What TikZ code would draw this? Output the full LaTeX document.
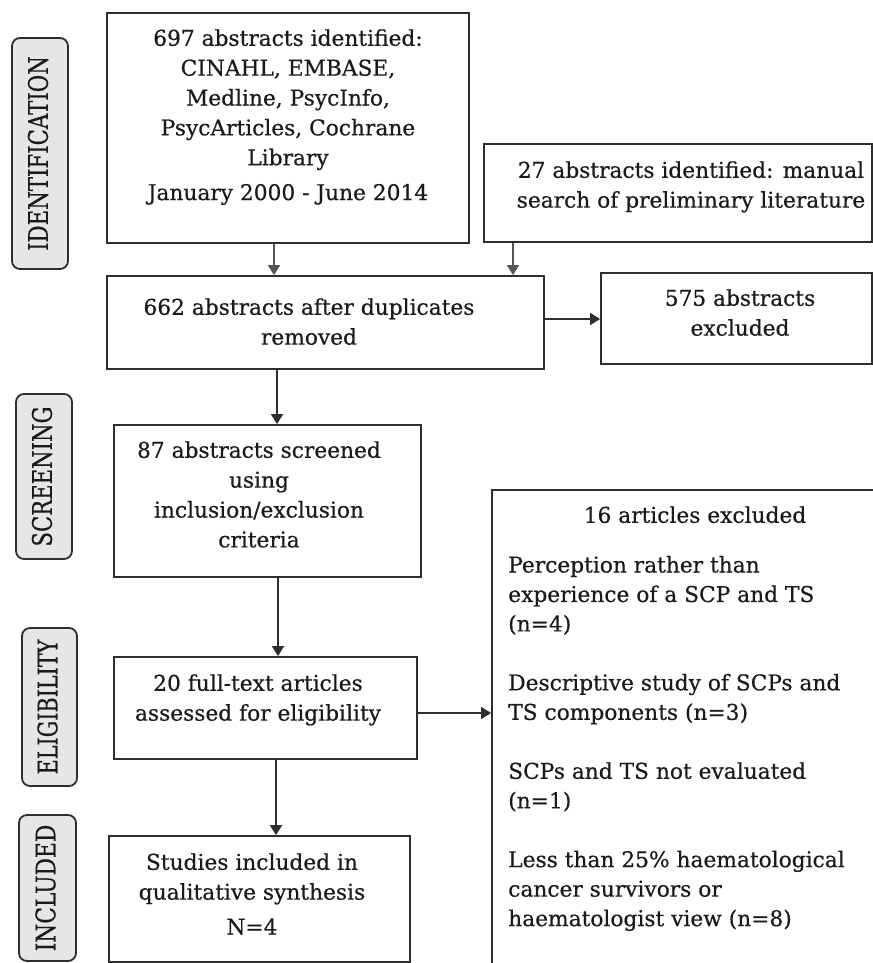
\documentclass[tikz,border=0pt]{standalone}
\usepackage{fontspec}
\setmainfont{DejaVu Serif}
\newfontfamily\heavyserif[FakeBold=0.5]{DejaVu Serif}
\usetikzlibrary{arrows.meta,fit,calc}
\definecolor{ink}{HTML}{1A1A1A}
\definecolor{edge}{HTML}{2E2E2E}
\definecolor{feed}{HTML}{555555}
\definecolor{pillfill}{HTML}{E6E6E6}

\begin{document}
\begin{tikzpicture}[x=0.75pt,y=-0.75pt,
  box/.style={draw=edge,line width=1.35pt,inner sep=0pt},
  pill/.style={draw=edge,line width=1.35pt,fill=pillfill,rounded corners=6pt,inner sep=0pt},
  txt/.style={inner sep=0pt,text=ink,font=\heavyserif\fontsize{16.3}{22.4}\selectfont,align=center},
  listtxt/.style={inner sep=0pt,text=ink,font=\heavyserif\fontsize{16.3}{22.1}\selectfont,align=left},
  phase/.style={rotate=90,inner sep=0pt,text=ink,font=\heavyserif},
  arr/.style={draw=edge,line width=1.35pt,-{Triangle[width=9pt,length=7.5pt]}},
]
\clip (0,0) rectangle (873,963);

% phase labels
\node[pill,fit={(12,38) (68,269)}] (p1) {};
\node[phase] (p1t) at ($(p1.center)+(-2,0)$) {\resizebox{146pt}{15pt}{IDENTIFICATION}};
\node[pill,fit={(16,394) (72,559)}] (p2) {};
\node[phase] (p2t) at ($(p2.center)+(-2,0)$) {\resizebox{105pt}{15pt}{SCREENING}};
\node[pill,fit={(22,628) (77,786)}] (p3) {};
\node[phase] (p3t) at ($(p3.center)+(-2,0)$) {\resizebox{101pt}{15pt}{ELIGIBILITY}};
\node[pill,fit={(19,815) (76,961)}] (p4) {};
\node[phase] (p4t) at ($(p4.center)+(-2,0)$) {\resizebox{95pt}{15pt}{INCLUDED}};

% flow boxes
\node[box,fit={(107,13) (469,243)}] (b1) {};
\node[box,fit={(484,144) (872,242)}] (b2) {};
\node[box,fit={(107,276) (544,369)}] (b3) {};
\node[box,fit={(601,273) (872,364)}] (b4) {};
\node[box,fit={(114,425) (421,577)}] (b5) {};
\node[box,fit={(114,657) (417,759)}] (b6) {};
\node[box,fit={(109,836) (410,962)}] (b7) {};
\node[box,fit={(492,490) (890,985)}] (b8) {};

% box texts
\node[txt,anchor=north] (t1) at (288,24.6) {\strut 697 abstracts identified:\\
  CINAHL, EMBASE,\\ Medline, PsycInfo,\\ PsycArticles, Cochrane\\ Library\\[3.75pt]
  January 2000 - June 2014};
\node[txt,anchor=north] (t2) at (691,156.6) {\strut 27 abstracts identified: manual\\
  search of preliminary literature};
\node[txt,anchor=north] (t3) at (309,293.6) {\strut 662 abstracts after duplicates\\ removed};
\node[txt,anchor=north] (t4) at (740,284.6) {\strut 575 abstracts\\ excluded};
\node[txt,anchor=north] (t5) at (259,436.6) {\strut 87 abstracts screened\\ using\\
  inclusion/exclusion\\ criteria};
\node[txt,anchor=north] (t6) at (258,669.6) {\strut 20 full-text articles\\
  assessed for eligibility};
\node[txt,anchor=north] (t7) at (252,848.6) {\strut Studies included in\\
  qualitative synthesis\\[3.75pt] N=4};
\node[txt,anchor=north] (t8) at (695,501.6) {\strut 16 articles excluded};
\node[listtxt,anchor=north west] (t9) at (508,551.6) {\strut Perception rather than\\
  experience of a SCP and TS\\ (n=4)\\[22.1pt]
  Descriptive study of SCPs and\\ TS components (n=3)\\[22.1pt]
  SCPs and TS not evaluated\\ (n=1)\\[22.1pt]
  Less than 25\% haematological\\ cancer survivors or\\ haematologist view (n=8)};

% connectors
\coordinate (a1) at ($(b1.south)+(-14,0)$);
\draw[arr,draw=feed] (a1) -- (a1 |- b3.north);
\coordinate (a2) at ($(b2.south)+(-165,0)$);
\draw[arr,draw=feed] (a2) -- (a2 |- b3.north);
\coordinate (a3) at ($(b3.east)+(0,-3.5)$);
\draw[arr] (a3) -- (a3 -| b4.west);
\coordinate (a4) at ($(b3.south)+(-48.5,0)$);
\draw[arr] (a4) -- (a4 |- b5.north);
\coordinate (a5) at ($(b5.south)+(10.5,0)$);
\draw[arr] (a5) -- (a5 |- b6.north);
\coordinate (a6) at ($(b6.east)+(0,5)$);
\draw[arr] (a6) -- (a6 -| b8.west);
\coordinate (a7) at ($(b6.south)+(10.5,0)$);
\draw[arr] (a7) -- (a7 |- b7.north);
\end{tikzpicture}
\end{document}
